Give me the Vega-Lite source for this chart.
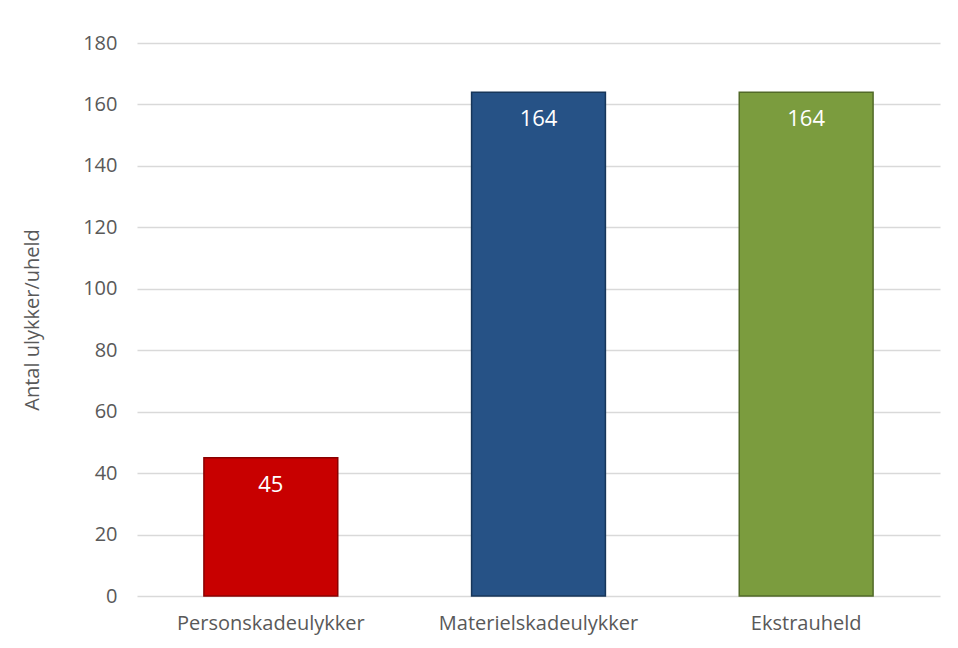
{
  "$schema": "https://vega.github.io/schema/vega-lite/v6.json",
  "autosize": {"type": "none"},
  "width": 803,
  "height": 553,
  "padding": {"left": 137, "top": 43, "right": 18, "bottom": 52},
  "background": "white",
  "config": {"view": {"stroke": null}, "font": "Open Sans"},
  "data": {"values": [
    {"kategori": "Personskadeulykker", "antal": 45, "farve": "#c80000", "kant": "#8a0000"},
    {"kategori": "Materielskadeulykker", "antal": 164, "farve": "#265286", "kant": "#17365a"},
    {"kategori": "Ekstrauheld", "antal": 164, "farve": "#7b9c3e", "kant": "#526a28"}
  ]},
  "encoding": {
    "x": {"field": "kategori", "type": "nominal", "sort": null,
      "scale": {"paddingInner": 0.5, "paddingOuter": 0.25},
      "axis": {"title": null, "labelAngle": 0, "labelFontSize": 20, "labelLimit": 0, "labelColor": "#595959", "labelPadding": 17, "ticks": false, "domain": false, "labelFont": "Open Sans"}},
    "y": {"field": "antal", "type": "quantitative",
      "scale": {"domain": [0, 180]},
      "axis": {"title": "Antal ulykker/uheld", "titleFontSize": 20, "titleFontWeight": "normal", "titleColor": "#595959", "titlePadding": 40,
        "values": [0, 20, 40, 60, 80, 100, 120, 140, 160, 180], "labelFontSize": 20, "labelColor": "#595959", "labelPadding": 20,
        "ticks": false, "domain": false, "gridColor": "#d9d9d9", "gridWidth": 1.3}}
  },
  "layer": [
    {"mark": {"type": "bar", "strokeWidth": 1.5},
     "encoding": {"color": {"field": "farve", "type": "nominal", "scale": null}, "stroke": {"field": "kant", "type": "nominal", "scale": null}}},
    {"mark": {"type": "text", "baseline": "top", "dy": 17, "fontSize": 22, "color": "white", "font": "Open Sans"},
     "encoding": {"text": {"field": "antal", "type": "quantitative"}}}
  ]
}
